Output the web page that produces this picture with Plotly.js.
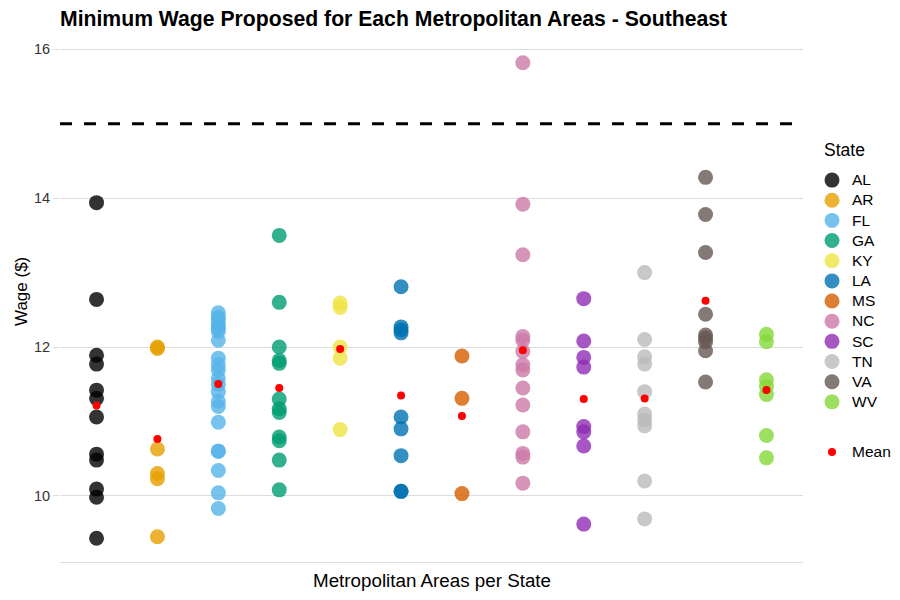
<!DOCTYPE html>
<html>
<head>
<meta charset="utf-8">
<script src="https://cdn.plot.ly/plotly-3.0.1.min.js"></script>
<style>html,body{margin:0;padding:0;background:#fff;}#chart{width:900px;height:600px;}</style>
</head>
<body>
<div id="chart"></div>
<script>
const states = ["AL","AR","FL","GA","KY","LA","MS","NC","SC","TN","VA","WV"];
const stateColors = ["#000000","#E69F00","#56B4E9","#009E73","#F0E442","#0072B2","#D55E00","#CC79A7","#902DB5","#BABABA","#665752","#84D838"];

const wageAL = [13.94, 12.64, 11.89, 11.77, 11.42, 11.31, 11.06, 10.56, 10.48, 10.09, 9.98, 9.43];
const wageAR = [12.00, 11.98, 10.63, 10.30, 10.23, 9.45];
const wageFL = [12.46, 12.40, 12.38, 12.32, 12.28, 12.25, 12.21, 12.09, 11.85, 11.76, 11.69, 11.58, 11.50, 11.40, 11.27, 11.20, 10.99, 10.60, 10.60, 10.34, 10.04, 9.83];
const wageGA = [13.50, 12.60, 12.00, 11.82, 11.78, 11.30, 11.17, 11.12, 10.79, 10.74, 10.48, 10.08];
const wageKY = [12.59, 12.53, 12.00, 11.85, 10.89];
const wageLA = [12.81, 12.27, 12.23, 12.19, 11.06, 10.90, 10.54, 10.06, 10.06];
const wageMS = [11.88, 11.31, 10.03];
const wageNC = [15.82, 13.92, 13.24, 12.14, 12.09, 11.94, 11.76, 11.69, 11.45, 11.22, 10.86, 10.57, 10.52, 10.17];
const wageSC = [12.65, 12.08, 11.86, 11.73, 10.93, 10.86, 10.67, 9.62];
const wageTN = [13.00, 12.10, 11.87, 11.77, 11.40, 11.10, 11.02, 10.94, 10.20, 9.69];
const wageVA = [14.28, 13.78, 13.27, 12.44, 12.16, 12.12, 12.07, 11.95, 11.53];
const wageWV = [12.17, 12.07, 11.56, 11.47, 11.36, 10.81, 10.51];

const proposedTarget = 15;
const yTicks = [10, 12, 14, 16];

const wagesByState = [wageAL, wageAR, wageFL, wageGA, wageKY, wageLA, wageMS, wageNC, wageSC, wageTN, wageVA, wageWV];
const means = wagesByState.map(a => a.reduce((s, v) => s + v, 0) / a.length);

const font = "Liberation Sans, Arial, sans-serif";
const legendLabel = s => '<span style="font-size:15.5px">' + s + '</span>';

const traces = states.map((st, i) => ({
  type: "scatter",
  mode: "markers",
  name: legendLabel(st),
  legendgroup: "state",
  x: wagesByState[i].map(() => st),
  y: wagesByState[i],
  marker: {color: stateColors[i], size: 15, opacity: 0.8, line: {width: 0}},
  hoverinfo: "x+y"
}));
traces.push({
  type: "scatter",
  mode: "markers",
  name: legendLabel("Mean"),
  legendgroup: "mean",
  x: states,
  y: means,
  marker: {color: "#FF0000", size: 8, line: {width: 0}}
});

const allY = wagesByState.flat().concat([proposedTarget]);
const yMin = Math.min(...allY), yMax = Math.max(...allY);
const pad = (yMax - yMin) * 0.05;

const layout = {
  width: 900, height: 600,
  paper_bgcolor: "#fff", plot_bgcolor: "#fff",
  margin: {l: 60, r: 97, t: 39, b: 38, autoexpand: false},
  font: {family: font, color: "#000"},
  title: {text: "<b>Minimum Wage Proposed for Each Metropolitan Areas - Southeast</b>",
    font: {family: font, size: 21.2, color: "#000"},
    xref: "container", x: 60/900, xanchor: "left", yref: "container", y: 1 - 19/600, yanchor: "middle"},
  xaxis: {type: "category", categoryorder: "array", categoryarray: states,
    range: [-0.6, states.length - 0.4], showticklabels: false, showgrid: false,
    zeroline: false, showline: true, linecolor: "#DDDDDD", linewidth: 1, ticks: "", fixedrange: true},
  yaxis: {range: [yMin - pad, yMax + pad], tickvals: yTicks, ticktext: yTicks.map(String),
    showgrid: true, gridcolor: "#DDDDDD", gridwidth: 1, zeroline: false,
    ticks: "outside", ticklen: 6, tickcolor: "#DDDDDD", tickwidth: 1,
    tickfont: {family: font, size: 14.5, color: "#333333"}},
  shapes: [{type: "line", xref: "paper", x0: 0, x1: 1, yref: "y", y0: proposedTarget, y1: proposedTarget,
    line: {color: "#000", width: 3, dash: "12px,12px"}, layer: "below"}],
  annotations: [
    {text: "Wage ($)", xref: "paper", yref: "paper", x: -60/743, xanchor: "left", y: 0.5, yanchor: "middle",
     textangle: -90, showarrow: false, font: {family: font, size: 17, color: "#000"}, xshift: 10, yshift: 9},
    {text: "Metropolitan Areas per State", xref: "paper", yref: "paper", x: 0.5, xanchor: "center",
     y: 0, yanchor: "middle", yshift: -18, showarrow: false, font: {family: font, size: 18.8, color: "#000"}},
    {text: "State", xref: "paper", yref: "paper", x: 1, xanchor: "left", xshift: 822 - 803,
     y: (562 - 150) / 523, yanchor: "middle", showarrow: false, font: {family: font, size: 17.5, color: "#000"}}
  ],
  showlegend: true,
  legend: {xref: "container", yref: "container", x: 812/900, xanchor: "left", y: 1 - 165/600, yanchor: "top",
    font: {family: font, size: 13.2, color: "#000"},
    traceorder: "grouped", tracegroupgap: 30, bgcolor: "rgba(0,0,0,0)", itemsizing: "trace"}
};

Plotly.newPlot("chart", traces, layout, {displayModeBar: false, staticPlot: true});
</script>
</body>
</html>
